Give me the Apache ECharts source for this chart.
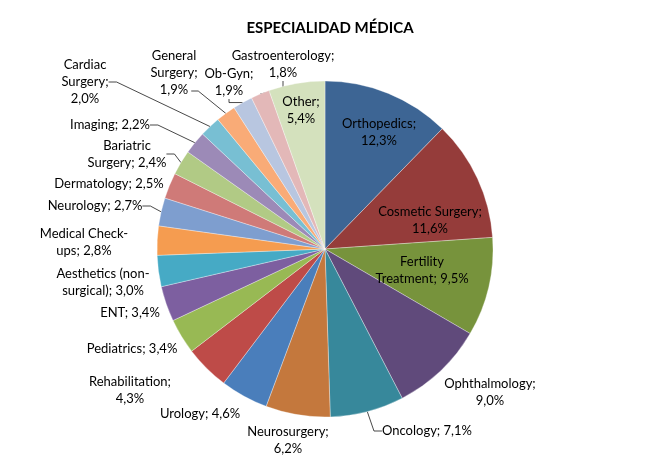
<!DOCTYPE html>
<html>
<head>
<meta charset="utf-8">
<title>Especialidad médica</title>
<script src="https://cdn.jsdelivr.net/npm/echarts@6/dist/echarts.min.js"></script>
<style>
  html, body { margin: 0; padding: 0; background: #fff; }
  #chart { width: 660px; height: 475px; }
</style>
</head>
<body>
<div id="chart"></div>
<script>
var categories = [
  'Orthopedics', 'Cosmetic Surgery', 'Fertility Treatment', 'Ophthalmology',
  'Oncology', 'Neurosurgery', 'Urology', 'Rehabilitation', 'Pediatrics', 'ENT',
  'Aesthetics (non-surgical)', 'Medical Check-ups', 'Neurology', 'Dermatology',
  'Bariatric Surgery', 'Imaging', 'Cardiac Surgery', 'General Surgery', 'Ob-Gyn',
  'Gastroenterology', 'Other'
];
var shares = [12.3, 11.6, 9.5, 9.0, 7.1, 6.2, 4.6, 4.3, 3.4, 3.4, 3.0, 2.8, 2.7, 2.5, 2.4, 2.2, 2.0, 1.9, 1.9, 1.8, 5.4];

// label text as Excel wrapped it, # = percentage
var labelText = [
  'Orthopedics;\n#', 'Cosmetic Surgery;\n#', 'Fertility\nTreatment; #', 'Ophthalmology;\n#',
  'Oncology; #', 'Neurosurgery;\n#', 'Urology; #', 'Rehabilitation;\n#', 'Pediatrics; #', 'ENT; #',
  'Aesthetics (non-\nsurgical); #', 'Medical Check-\nups; #', 'Neurology; #', 'Dermatology; #',
  'Bariatric\nSurgery; #', 'Imaging; #', 'Cardiac\nSurgery;\n#', 'General\nSurgery;\n#', 'Ob-Gyn;\n#',
  'Gastroenterology;\n#', 'Other;\n#'
];

var colors = [
  '#3d6594', '#953c3a', '#77933c', '#604a7b', '#37889b', '#c4783d', '#4a7ebb',
  '#be4b48', '#98b954', '#7d5fa0', '#46aac5', '#f59c50', '#7e9ecf', '#cf7a78',
  '#b1ca85', '#9c8ab7', '#78bfd3', '#f9ab77', '#b8c6e0', '#e3b8b8', '#d4e1bd'
];

// slices whose label keeps a leader line
var withLeader = ['Oncology', 'Neurology', 'Bariatric Surgery', 'Imaging',
  'Cardiac Surgery', 'General Surgery', 'Ob-Gyn', 'Gastroenterology'];

// label centres
var labelPos = [
  [379, 132], [430, 220], [422, 270], [490, 392], [427, 431], [288, 440], [200, 414],
  [130, 390], [132, 349], [130, 313], [103, 282], [84, 242], [95, 206], [109, 184],
  [127, 154], [110, 125], [85, 82], [174, 73], [229, 82], [283, 64], [301, 110]
];

var pieCenter = [325, 249];
var pieRadius = 168;
var labelFont = '13px Lato';
var lineH = 17;

function pct(v) {
  return v.toFixed(1).replace('.', ',') + '%';
}

var measureCtx = document.createElement('canvas').getContext('2d');
measureCtx.font = labelFont;

// leader from the end of the label's last line to the middle of the slice's rim
function leaderFromLastLine(idx) {
  var total = shares.reduce(function (a, b) { return a + b; }, 0);
  var before = 0;
  for (var i = 0; i < idx; i++) before += shares[i];
  var ang = (before + shares[idx] / 2) / total * 2 * Math.PI;
  var rim = [pieCenter[0] + pieRadius * Math.sin(ang), pieCenter[1] - pieRadius * Math.cos(ang)];
  var lines = labelText[idx].replace('#', pct(shares[idx])).split('\n');
  var last = lines[lines.length - 1];
  var w = measureCtx.measureText(last).width;
  var pos = labelPos[idx];
  var y = pos[1] + (lines.length - 1) * lineH / 2 + 1;
  var x = pos[0] + w / 2 + 3;
  return [[x, y], [x + 7, y], rim];
}

var chart = echarts.init(document.getElementById('chart'));

var seriesData = categories.map(function (name, i) {
  return {
    name: name,
    value: shares[i],
    itemStyle: { color: colors[i] },
    labelLine: { show: withLeader.indexOf(name) > -1 }
  };
});

chart.setOption({
  animation: false,
  title: {
    text: 'ESPECIALIDAD MÉDICA',
    left: 325,
    textAlign: 'center',
    top: 16,
    textStyle: { fontFamily: 'Lato', fontSize: 15, fontWeight: 'bold', color: '#000' }
  },
  series: [
    {
      type: 'pie',
      center: pieCenter,
      radius: pieRadius,
      startAngle: 90,
      clockwise: true,
      avoidLabelOverlap: false,
      data: seriesData,
      itemStyle: { borderColor: 'rgba(255,255,255,0.55)', borderWidth: 0.6 },
      label: {
        show: true,
        position: 'outside',
        formatter: function (p) {
          return labelText[p.dataIndex].replace('#', pct(p.value));
        },
        fontFamily: 'Lato',
        fontSize: 13,
        lineHeight: lineH,
        color: '#000'
      },
      labelLine: {
        length: 6,
        length2: 8,
        lineStyle: { color: '#1a1a1a', width: 0.8 }
      },
      labelLayout: function (p) {
        var pos = labelPos[p.dataIndex];
        var out = { x: pos[0], y: pos[1], align: 'center', verticalAlign: 'middle' };
        if (categories[p.dataIndex] === 'General Surgery') {
          out.labelLinePoints = leaderFromLastLine(p.dataIndex);
        }
        return out;
      }
    }
  ]
});
</script>
</body>
</html>
